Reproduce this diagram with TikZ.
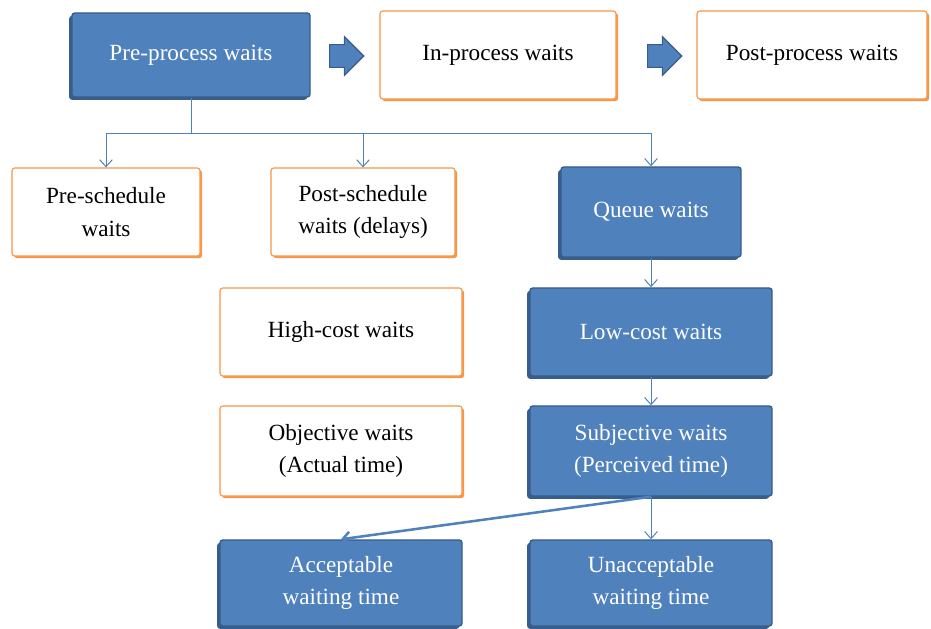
\documentclass[tikz,border=0pt]{standalone}
\usepackage{fontspec}
\setmainfont{Liberation Serif}
\usepackage{xcolor}
\usetikzlibrary{positioning, shapes.arrows, shadows, arrows.meta}
\definecolor{boxblue}{RGB}{79, 129, 189}
\definecolor{edgeblue}{RGB}{56, 93, 138}
\definecolor{boxorange}{RGB}{247, 150, 70}

\begin{document}
\begin{tikzpicture}[
        x=0.025cm, y=-0.025cm,
        bluebox/.style={rectangle, rounded corners=2pt, draw=edgeblue, line width=1pt, fill=boxblue, text=white, align=center, minimum height=2.2cm, font=\fontsize{16.5}{23}\selectfont, drop shadow={shadow xshift=-2pt, shadow yshift=-2pt, fill=edgeblue, opacity=1}},
        orangebox/.style={rectangle, rounded corners=2pt, draw=boxorange, line width=0.8pt, fill=white, text=black, align=center, minimum height=2.2cm, font=\fontsize{16.5}{23}\selectfont, drop shadow={shadow xshift=1.5pt, shadow yshift=-1.5pt, fill=boxorange, opacity=1}},
        blockarrow/.style={single arrow, draw=edgeblue, line width=0.8pt, fill=boxblue, minimum height=0.83cm, inner sep=0.27cm, single arrow head extend=0.2cm},
        link/.style={draw=boxblue, line width=0.7pt},
        tip/.style={-{Straight Barb[length=5pt, width=9pt]}}
    ]
        \useasboundingbox (0,0) rectangle (931,629);

        % top row
        \node (pre) [bluebox, minimum width=5.95cm, minimum height=2.1cm] at (191,55) {Pre-process waits};
        \node (inproc) [orangebox, minimum width=5.9cm] at (498,55) {In-process waits};
        \node (postproc) [orangebox, minimum width=5.75cm] at (812,55) {Post-process waits};
        \node (arrowA) [blockarrow] at (341,56) {};
        \node (arrowB) [blockarrow] at (659,56) {};

        % second row
        \node (presched) [orangebox, minimum width=4.7cm] at (106,212) {Pre-schedule\\waits};
        \node (postsched) [orangebox, minimum width=4.6cm] at (363,212) {Post-schedule\\waits (delays)};
        \node (queue) [bluebox, minimum width=4.5cm, minimum height=2.25cm] at (651,212) {Queue waits};

        % lower rows
        \node (highcost) [orangebox, minimum width=6.05cm] at (341,332) {High-cost waits};
        \node (lowcost) [bluebox, minimum width=6.05cm] at (651,332) {Low-cost waits};
        \node (objective) [orangebox, minimum width=6.05cm, minimum height=2.25cm] at (341,451) {Objective waits\\(Actual time)};
        \node (subjective) [bluebox, minimum width=6.05cm, minimum height=2.25cm] at (651,451) {Subjective waits\\(Perceived time)};
        \node (acceptable) [bluebox, minimum width=6.05cm, minimum height=2.15cm] at (341,583) {Acceptable\\waiting time};
        \node (unacceptable) [bluebox, minimum width=6.05cm, minimum height=2.15cm] at (651,583) {Unacceptable\\waiting time};

        % connectors
        \coordinate (split) at (191,133);
        \draw[link] (pre.south) -- (split);
        \draw[link, tip] (split) -| (presched.north);
        \draw[link, tip] (split) -| (postsched.north);
        \draw[link, tip] (split) -| (queue.north);
        \draw[link, tip] (queue) -- (lowcost);
        \draw[link, tip] (lowcost) -- (subjective);
        \draw[link, tip] (subjective) -- (unacceptable);
        \draw[link, tip, line width=1.8pt] (subjective.south) -- (acceptable.north);
\end{tikzpicture}
\end{document}
